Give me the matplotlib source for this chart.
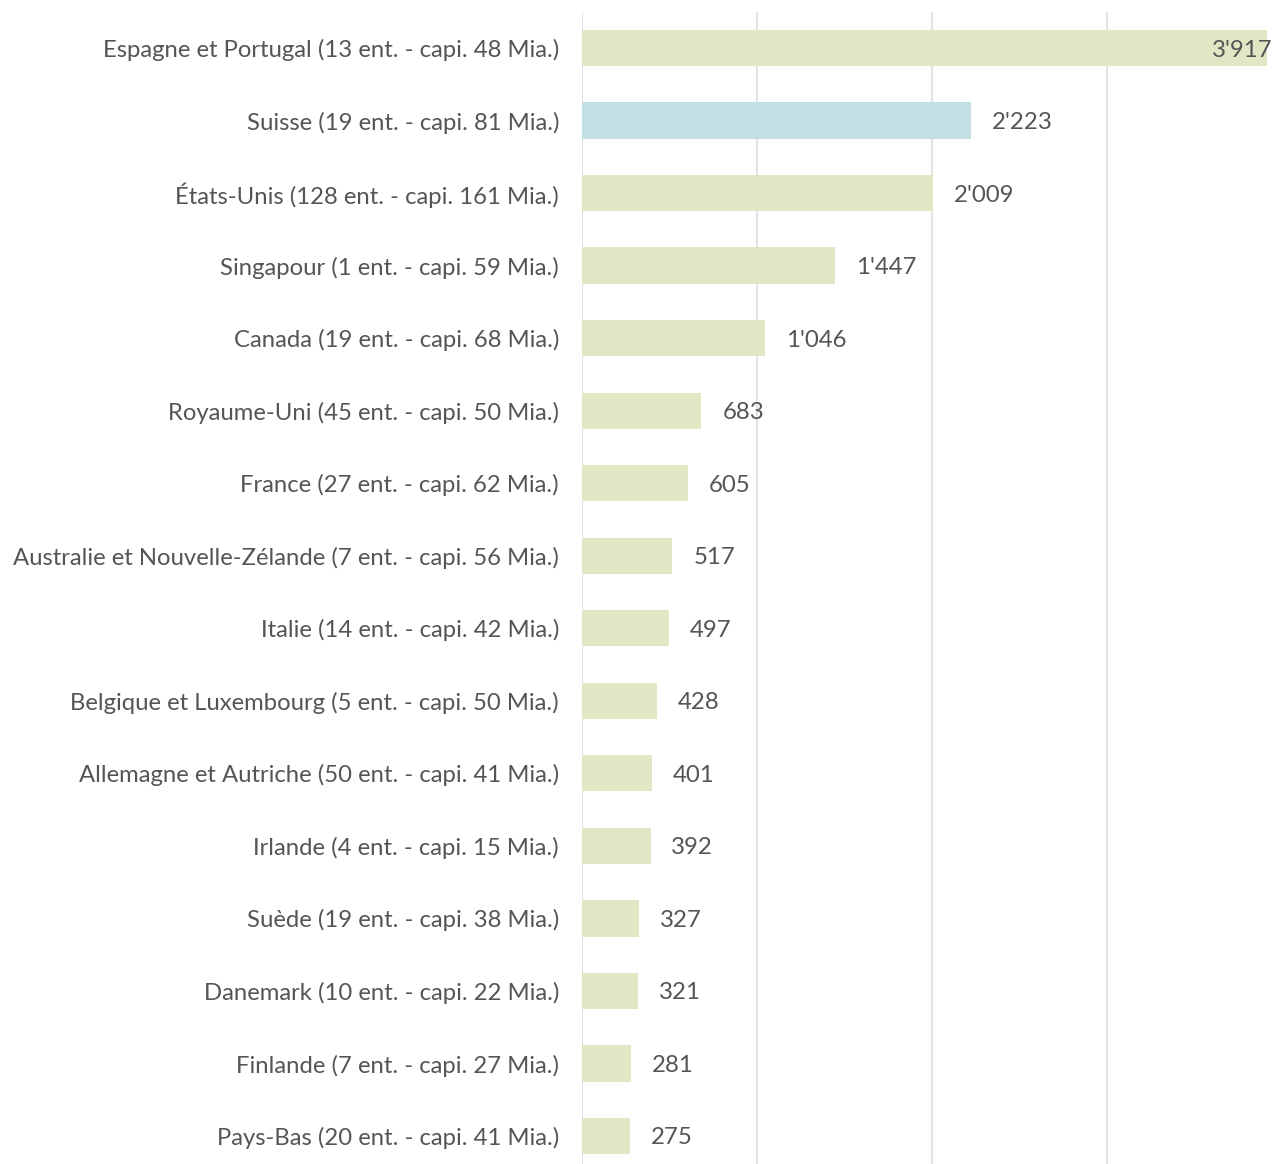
import matplotlib
matplotlib.use("Agg")
import matplotlib.pyplot as plt

categories = [
    "Espagne et Portugal (13 ent. - capi. 48 Mia.)",
    "Suisse (19 ent. - capi. 81 Mia.)",
    "États-Unis (128 ent. - capi. 161 Mia.)",
    "Singapour (1 ent. - capi. 59 Mia.)",
    "Canada (19 ent. - capi. 68 Mia.)",
    "Royaume-Uni (45 ent. - capi. 50 Mia.)",
    "France (27 ent. - capi. 62 Mia.)",
    "Australie et Nouvelle-Zélande (7 ent. - capi. 56 Mia.)",
    "Italie (14 ent. - capi. 42 Mia.)",
    "Belgique et Luxembourg (5 ent. - capi. 50 Mia.)",
    "Allemagne et Autriche (50 ent. - capi. 41 Mia.)",
    "Irlande (4 ent. - capi. 15 Mia.)",
    "Suède (19 ent. - capi. 38 Mia.)",
    "Danemark (10 ent. - capi. 22 Mia.)",
    "Finlande (7 ent. - capi. 27 Mia.)",
    "Pays-Bas (20 ent. - capi. 41 Mia.)",
]
values = [3917, 2223, 2009, 1447, 1046, 683, 605, 517, 497, 428, 401, 392, 327, 321, 281, 275]
highlight = "Suisse (19 ent. - capi. 81 Mia.)"

plt.rcParams['font.family'] = ['Lato', 'DejaVu Sans']

W, H = 1273, 1164
fig = plt.figure(figsize=(W / 100, H / 100), dpi=100)
left = 582 / W
top = 12 / H
ax = fig.add_axes([left, 0, 1 - left, 1 - top])

green = "#e1e6c4"
blue = "#c3e0e5"
text_color = "#555555"

ys = list(range(len(categories)))
colors = [blue if c == highlight else green for c in categories]
ax.barh(ys, values, height=0.5, color=colors, zorder=2)

ax.set_xlim(0, 3950)
ax.set_ylim(15 + 28 / 72.53, -36 / 72.53)
ax.set_xticks([0, 1000, 2000, 3000])
ax.xaxis.grid(True, color="#e3e3e3", linewidth=1.5, zorder=0)
ax.tick_params(axis='x', length=0, labelbottom=False)
ax.tick_params(axis='y', length=0, pad=16.5, labelsize=17.2, labelcolor=text_color)
ax.set_yticks(ys)
ax.set_yticklabels(categories)
for s in ax.spines.values():
    s.set_visible(False)

def fmt(v):
    return f"{v:,}".replace(",", "'")

for y, v in zip(ys, values):
    if v > 3700:
        ax.text(3945, y, fmt(v), va='center_baseline', ha='right', fontsize=17.3,
                color=text_color, zorder=3)
    else:
        ax.annotate(fmt(v), (v, y), xytext=(15, 0), textcoords='offset points',
                    va='center_baseline', ha='left', fontsize=17.3, color=text_color, zorder=3)

fig.savefig("out.png", dpi=100)
